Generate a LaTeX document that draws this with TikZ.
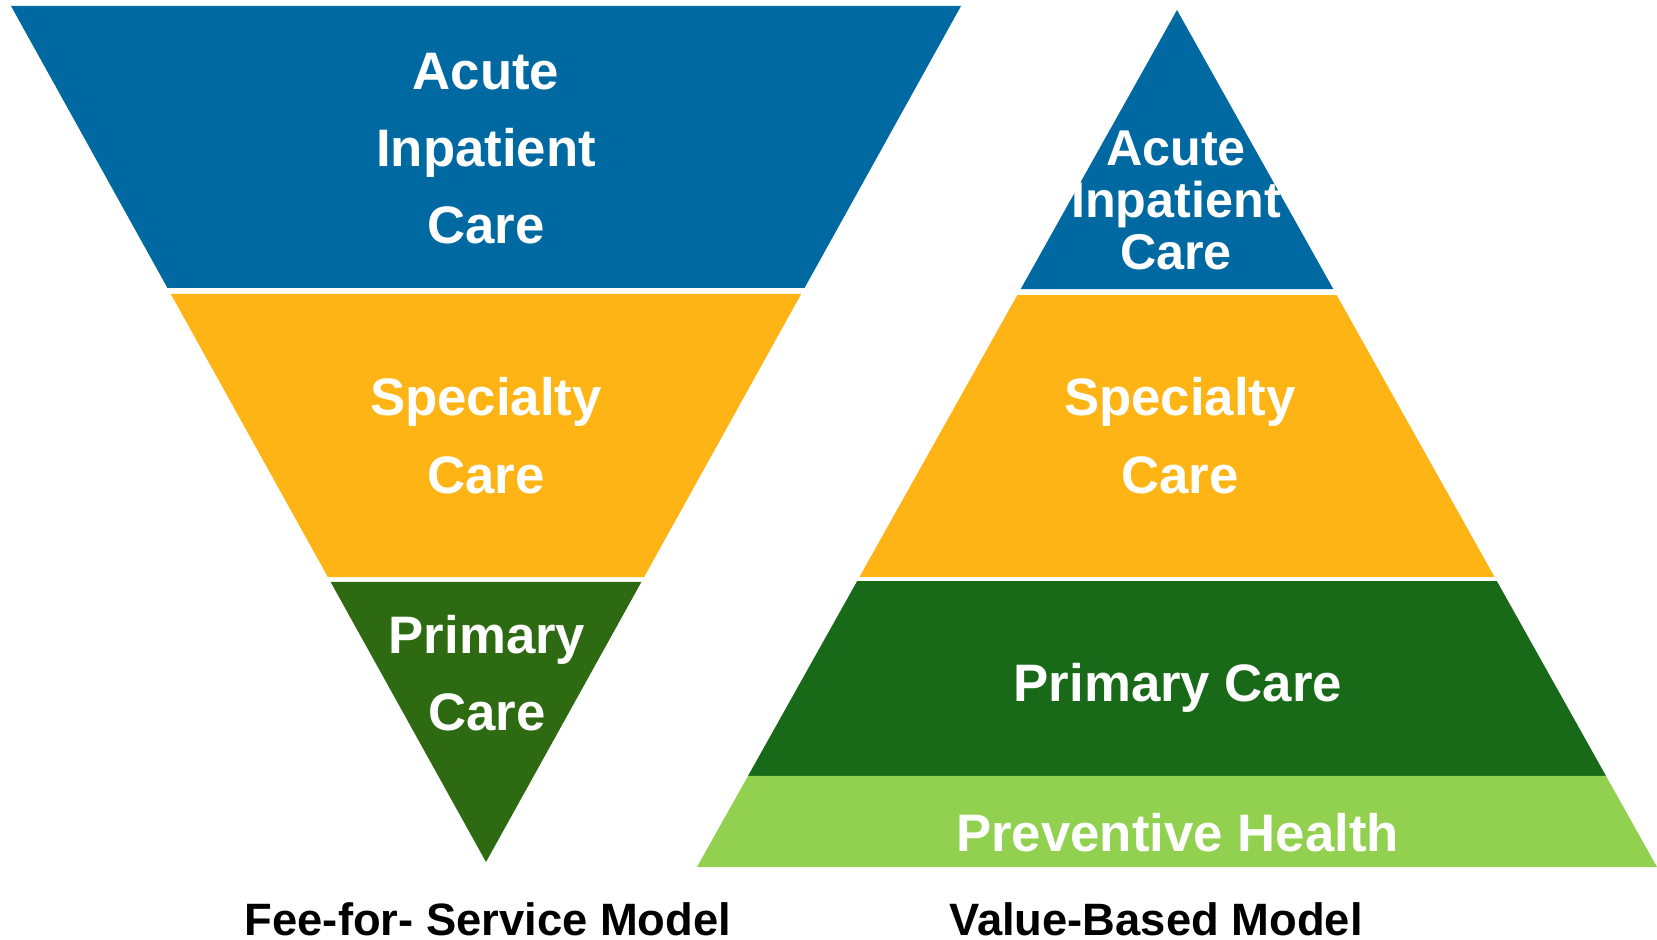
\documentclass[tikz,border=0pt]{standalone}
\usepackage{fontspec}
\setmainfont{Liberation Sans}
\usetikzlibrary{calc,positioning}
\definecolor{careblue}{RGB}{1,105,161}
\definecolor{careyellow}{RGB}{253,180,20}
\definecolor{feegreen}{RGB}{45,106,18}
\definecolor{valuegreen}{RGB}{24,106,24}
\definecolor{prevgreen}{RGB}{146,208,80}

\begin{document}
\begin{tikzpicture}[x=0.01cm,y=-0.01cm,
lbl/.style={text=white,align=center,inner sep=0pt,font=\bfseries\fontsize{15}{22}\selectfont},
small/.style={lbl,font=\bfseries\fontsize{14.3}{14.8}\selectfont},
caption/.style={text=black,inner sep=0pt,anchor=base,font=\bfseries\fontsize{12.9}{15}\selectfont}]

\useasboundingbox (0,0) rectangle (1657,940);

% corners of the two triangles
\coordinate (ftl) at (11,6);
\coordinate (ftr) at (961,6);
\coordinate (fap) at (486,862);
\coordinate (vap) at (1177,10);
\coordinate (vbl) at (697,867);
\coordinate (vbr) at (1657,867);

% Fee-for-Service (upside down)
\fill[careblue] (ftl) -- (ftr) -- ($(ftr)!0.3294!(fap)$) -- ($(ftl)!0.3294!(fap)$) -- cycle;
\fill[careyellow] ($(ftl)!0.3364!(fap)$) -- ($(ftr)!0.3364!(fap)$) -- ($(ftr)!0.6671!(fap)$) -- ($(ftl)!0.6671!(fap)$) -- cycle;
\fill[feegreen] ($(ftl)!0.6729!(fap)$) -- ($(ftr)!0.6729!(fap)$) -- (fap) -- cycle;

% Value-Based
\fill[careblue] (vap) -- ($(vap)!0.3256!(vbr)$) -- ($(vap)!0.3256!(vbl)$) -- cycle;
\fill[careyellow] ($(vap)!0.3326!(vbl)$) -- ($(vap)!0.3326!(vbr)$) -- ($(vap)!0.6616!(vbr)$) -- ($(vap)!0.6616!(vbl)$) -- cycle;
\fill[valuegreen] ($(vap)!0.6663!(vbl)$) -- ($(vap)!0.6663!(vbr)$) -- ($(vap)!0.8938!(vbr)$) -- ($(vap)!0.8938!(vbl)$) -- cycle;
\fill[prevgreen] ($(vap)!0.8938!(vbl)$) -- ($(vap)!0.8938!(vbr)$) -- (vbr) -- (vbl) -- cycle;

% labels
\node[lbl] (facute) at (486,148.5) {Acute\\Inpatient\\Care};
\node[lbl] (fspec) at (486,435.7) {Specialty\\Care};
\node[lbl] (fprim) at (487,673) {Primary\\Care};

\node[small] (vacute) at (1176,200.7) {Acute\\Inpatient\\Care};
\node[lbl] (vspec) at (1180,435.5) {Specialty\\Care};
\node[lbl,anchor=base] (vprim) at (1178,701.7) {Primary Care};
\node[lbl,anchor=base] (vprev) at (1177.6,851) {Preventive Health};

\node[caption] (fcap) at (488,935) {Fee-for- Service Model};
\node[caption] (vcap) at (1156,935) {Value-Based Model};

\end{tikzpicture}
\end{document}
